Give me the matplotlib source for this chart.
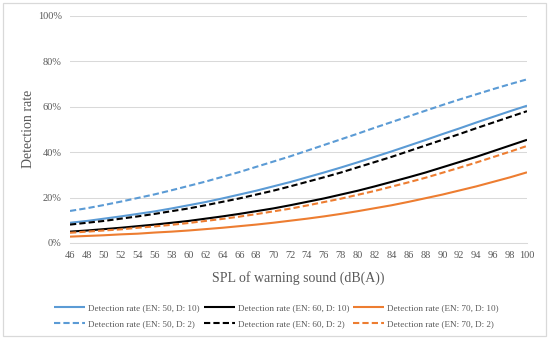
import matplotlib
matplotlib.use("Agg")
import matplotlib.pyplot as plt
from matplotlib.patches import Rectangle
from matplotlib.ticker import PercentFormatter

plt.rcParams['font.family'] = ['Liberation Serif', 'DejaVu Serif']

spl = list(range(46, 101, 2))

en50_d10 = [8.9, 9.7, 10.7, 11.7, 12.8, 13.9, 15.2, 16.6, 18.0, 19.6, 21.3, 23.0, 24.9, 26.8,
            28.9, 31.0, 33.2, 35.5, 37.9, 40.3, 42.8, 45.3, 47.9, 50.4, 53.0, 55.5, 58.0, 60.4]
en60_d10 = [5.0, 5.5, 6.1, 6.7, 7.4, 8.1, 8.9, 9.7, 10.7, 11.7, 12.8, 14.0, 15.2, 16.6,
            18.1, 19.6, 21.3, 23.0, 24.9, 26.9, 28.9, 31.0, 33.3, 35.6, 37.9, 40.4, 42.9, 45.4]
en70_d10 = [2.8, 3.1, 3.4, 3.8, 4.1, 4.6, 5.0, 5.5, 6.1, 6.7, 7.4, 8.1, 8.9, 9.8,
            10.7, 11.7, 12.8, 14.0, 15.3, 16.6, 18.1, 19.7, 21.3, 23.1, 24.9, 26.9, 28.9, 31.1]
en50_d2 = [14.1, 15.3, 16.7, 18.2, 19.8, 21.4, 23.2, 25.1, 27.0, 29.1, 31.2, 33.5, 35.8, 38.1,
           40.6, 43.1, 45.6, 48.1, 50.7, 53.2, 55.7, 58.2, 60.7, 63.1, 65.4, 67.7, 69.9, 72.0]
en60_d2 = [8.1, 8.9, 9.7, 10.7, 11.7, 12.8, 14.0, 15.2, 16.6, 18.1, 19.6, 21.3, 23.0, 24.9,
           26.9, 28.9, 31.0, 33.3, 35.6, 37.9, 40.4, 42.9, 45.4, 47.9, 50.5, 53.0, 55.5, 58.0]
en70_d2 = [4.5, 5.0, 5.5, 6.0, 6.7, 7.3, 8.0, 8.8, 9.7, 10.6, 11.6, 12.7, 13.9, 15.1,
           16.5, 18.0, 19.5, 21.2, 22.9, 24.8, 26.7, 28.7, 30.9, 33.1, 35.4, 37.8, 40.2, 42.7]

labels = ["Detection rate (EN: 50, D: 10)", "Detection rate (EN: 60, D: 10)",
          "Detection rate (EN: 70, D: 10)", "Detection rate (EN: 50, D: 2)",
          "Detection rate (EN: 60, D: 2)", "Detection rate (EN: 70, D: 2)"]
yticks = [0, 20, 40, 60, 80, 100]

BLUE = '#5B9BD5'
BLACK = '#000000'
ORANGE = '#ED7D31'
TXT = '#595959'

W, H = 550, 338
fig = plt.figure(figsize=(W / 100, H / 100), dpi=100)
fig.patches.append(Rectangle((2.5 / W, 2.5 / H), (545.5 - 2.5) / W, (335.5 - 2.5) / H,
                             transform=fig.transFigure, fill=False,
                             edgecolor='#D9D9D9', linewidth=0.9))

x0, x1 = 70, 527
y0, y1 = 243, 15.7
ax = fig.add_axes([x0 / W, 1 - y0 / H, (x1 - x0) / W, (y0 - y1) / H])

series = [en50_d10, en60_d10, en70_d10, en50_d2, en60_d2, en70_d2]
colors = [BLUE, BLACK, ORANGE, BLUE, BLACK, ORANGE]
handles = []
for i, (vals, c) in enumerate(zip(series, colors)):
    if i < 3:
        h, = ax.plot(spl, vals, color=c, lw=1.5, solid_capstyle='butt', zorder=3)
    else:
        h, = ax.plot(spl, vals, color=c, lw=1.5, dashes=(3, 1.5), dash_capstyle='butt', zorder=3)
    handles.append(h)

ax.set_xlim(46, 100)
ax.set_ylim(0, 100)
ax.set_xticks(spl)
ax.set_xticklabels([str(v) for v in spl])
ax.set_yticks(yticks)
ax.yaxis.set_major_formatter(PercentFormatter(decimals=0))
ax.grid(axis='y', color='#D9D9D9', lw=0.75)
ax.set_axisbelow(True)
for s in ['top', 'right', 'left']:
    ax.spines[s].set_visible(False)
ax.spines['bottom'].set_color('#D9D9D9')
ax.spines['bottom'].set_linewidth(0.75)
ax.tick_params(axis='both', length=0, colors=TXT, labelsize=7.5)
ax.tick_params(axis='y', pad=6)
ax.tick_params(axis='x', pad=6)

ax.set_xlabel("SPL of warning sound (dB(A))", fontsize=10, color=TXT, labelpad=7.5)
ax.set_ylabel("Detection rate", fontsize=10, color=TXT, labelpad=2)

order = [0, 3, 1, 4, 2, 5]
leg = fig.legend([handles[i] for i in order], [labels[i] for i in order],
                 ncol=3, loc='center', bbox_to_anchor=(276.5 / W, 1 - 316 / H),
                 frameon=False, fontsize=6.6, handlelength=3.4, handletextpad=0.35,
                 columnspacing=0.4, labelspacing=0.85, borderpad=0)
for t in leg.get_texts():
    t.set_color(TXT)

fig.savefig("out.png", dpi=100)
